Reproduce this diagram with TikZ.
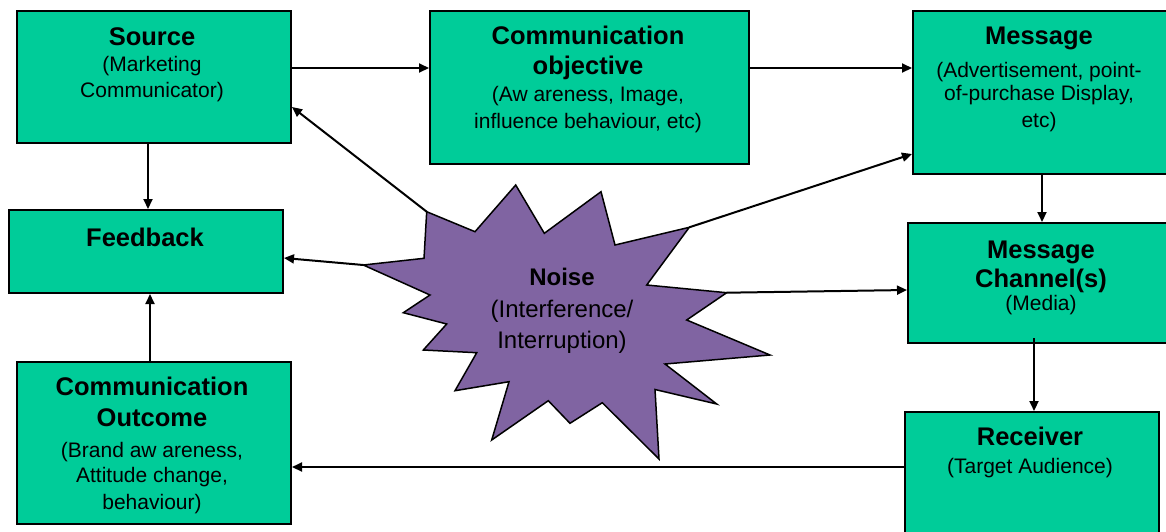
\documentclass[tikz,border=0pt]{standalone}
\usepackage{fontspec}
\setmainfont{Liberation Sans}
\usetikzlibrary{arrows.meta}
\definecolor{boxgreen}{RGB}{0,204,153}
\definecolor{noisepurple}{RGB}{128,100,162}
\tikzset{
  box/.style={draw=black, line width=2pt, fill=boxgreen, inner sep=0pt, anchor=north west},
  ttl/.style={anchor=base, inner sep=0pt, font=\fontsize{25.5}{30}\selectfont\bfseries},
  sub/.style={anchor=base, inner sep=0pt, font=\fontsize{21}{25}\selectfont},
  noisettl/.style={anchor=base, inner sep=0pt, font=\fontsize{24}{28}\selectfont\bfseries},
  noisesub/.style={anchor=base, inner sep=0pt, font=\fontsize{24}{28}\selectfont},
  arr/.style={line width=2pt, -{Triangle[length=10pt,width=9pt]}},
}
\begin{document}
\begin{tikzpicture}[x=1pt, y=-1pt]
\useasboundingbox (0,0) rectangle (1166,531);
\fill[white] (0,0) rectangle (1166,531);

% boxes
\node[box, minimum width=274pt, minimum height=132pt] (src) at (16,10) {};
\node[box, minimum width=319pt, minimum height=153pt] (obj) at (429,10) {};
\node[box, minimum width=254pt, minimum height=163pt] (msg) at (912,10) {};
\node[box, minimum width=274pt, minimum height=83pt]  (fb)  at (8,209) {};
\node[box, minimum width=270pt, minimum height=120pt] (chn) at (907,222) {};
\node[box, minimum width=254pt, minimum height=140pt] (rcv) at (904,411) {};
\node[box, minimum width=274pt, minimum height=162pt] (out) at (16,361) {};

% box texts
\node[ttl] (srcT)  at (152,45) {Source};
\node[sub] (srcS1) at (152,71) {(Marketing};
\node[sub] (srcS2) at (152,97) {Communicator)};

\node[ttl] (objT1) at (588,44.5) {Communication};
\node[ttl] (objT2) at (588,74.5) {objective};
\node[sub] (objS1) at (588,101) {(Aw areness, Image,};
\node[sub] (objS2) at (588,128) {influence behaviour, etc)};

\node[ttl] (msgT)  at (1039,44.5) {Message};
\node[sub] (msgS1) at (1039,77) {(Advertisement, point-};
\node[sub] (msgS2) at (1039,100.5) {of-purchase Display,};
\node[sub] (msgS3) at (1039,127.5) {etc)};

\node[ttl] (fbT)   at (145,246) {Feedback};

\node[ttl] (chnT1) at (1041,258) {Message};
\node[ttl] (chnT2) at (1041,287.5) {Channel(s)};
\node[sub] (chnS)  at (1041,310) {(Media)};

\node[ttl] (rcvT)  at (1030,445) {Receiver};
\node[sub] (rcvS)  at (1030,473) {(Target Audience)};

\node[ttl] (outT1) at (152,395) {Communication};
\node[ttl] (outT2) at (152,426) {Outcome};
\node[sub] (outS1) at (152,457) {(Brand aw areness,};
\node[sub] (outS2) at (152,482) {Attitude change,};
\node[sub] (outS3) at (152,509) {behaviour)};

% noise burst
\coordinate (tipSrc) at (426.7,211.7);
\coordinate (tipMsg) at (689.3,227.3);
\coordinate (tipChn) at (726.7,292.7);
\coordinate (tipFb)  at (363.3,265);
\draw[fill=noisepurple, line width=1.5pt, line join=miter]
  (tipSrc) -- (475,231.7) -- (515.7,185) -- (544.3,233.3) -- (601,191.7)
  -- (615,245) -- (tipMsg) -- (646.7,285) -- (tipChn) -- (686.7,320)
  -- (770,355) -- (665,364) -- (716.7,404) -- (655,389.5) -- (659,459)
  -- (602.3,402.7) -- (570,423.3) -- (548.3,400.7) -- (491.7,440)
  -- (509,381.7) -- (455,390.7) -- (476.7,352.7) -- (423.3,350)
  -- (446.7,324) -- (403.3,312.7) -- (430,295) -- (tipFb) -- (424,258.3)
  -- cycle;
\node[noisettl] (noiT)  at (562,285) {Noise};
\node[noisesub] (noiS1) at (562,317.5) {(Interference/};
\node[noisesub] (noiS2) at (562,348.5) {Interruption)};

% flow connectors
\draw[arr] (src.east |- 0,68) -- (obj.west |- 0,68);
\draw[arr] (obj.east |- 0,68) -- (msg.west |- 0,68);
\draw[arr] (src.south -| 148,0) -- (fb.north -| 148,0);
\draw[arr] (out.north -| 150,0) -- (fb.south -| 150,0);
\draw[arr] (msg.south -| 1042,0) -- (chn.north -| 1042,0);
\draw[arr] (chn.south -| 1034,0) ++(0,-6) -- (rcv.north -| 1034,0);
\draw[arr] (rcv.west |- 0,467) -- (out.east |- 0,467);

% noise connectors
\draw[arr] (tipSrc) -- (src.east |- 0,107);
\draw[arr] (tipMsg) -- (msg.west |- 0,154);
\draw[arr] (tipChn) -- (chn.west |- 0,290);
\draw[arr] (tipFb) -- (fb.east |- 0,258);
\end{tikzpicture}
\end{document}
